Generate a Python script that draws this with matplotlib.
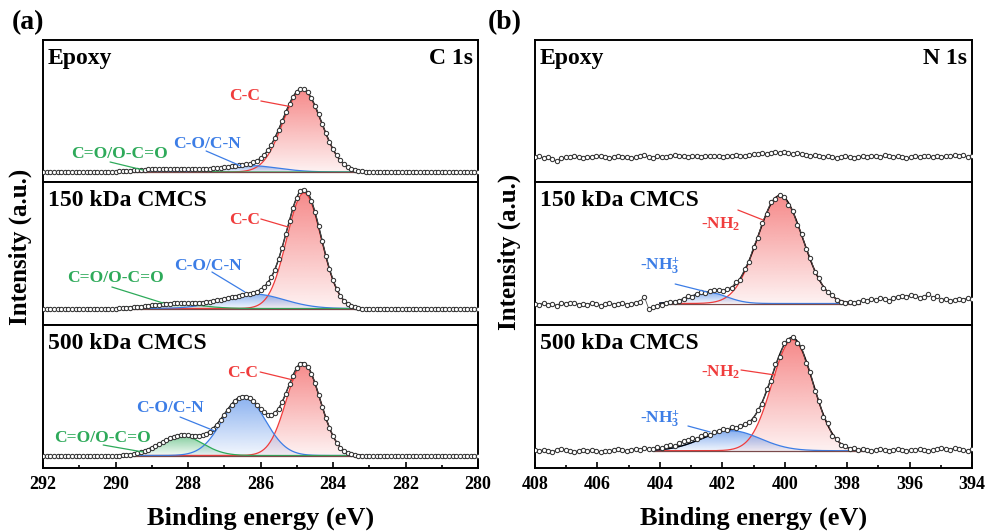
import numpy as np
import matplotlib
matplotlib.use('Agg')
import matplotlib.pyplot as plt
import matplotlib.colors as mcolors

plt.rcParams['font.family'] = ['Liberation Serif', 'DejaVu Serif']
plt.rcParams['font.weight'] = 'bold'
plt.rcParams['mathtext.fontset'] = 'custom'
plt.rcParams['mathtext.rm'] = 'Liberation Serif:bold'
plt.rcParams['mathtext.it'] = 'Liberation Serif:bold'
plt.rcParams['mathtext.bf'] = 'Liberation Serif:bold'

# ---- data (intensity in arbitrary units, baseline = 0) ----
samples = ['Epoxy', '150 kDa CMCS', '500 kDa CMCS']

# C 1s: 292 -> 280 eV, 0.1 eV step
c1s_energy = np.linspace(292, 280, 121)
c1s_epoxy = [0, 0, 0, 0, 0, 0, 0, 0, 0, 0,
             0, 0, 0, 0, 0, 0, 0, 0, 0, 0,
             0, 1, 1, 1, 1, 2, 2, 2, 2, 3,
             3, 3, 3, 3, 3, 3, 3, 3, 3, 3,
             3, 3, 3, 3, 3, 3, 3, 4, 4, 4,
             5, 5, 6, 6, 7, 7, 8, 8, 10, 11,
             14, 17, 22, 27, 34, 42, 51, 60, 68, 75,
             80, 83, 83, 80, 74, 66, 58, 48, 39, 30,
             23, 17, 12, 8, 5, 3, 2, 1, 1, 0,
             0, 0, 0, 0, 0, 0, 0, 0, 0, 0,
             0, 0, 0, 0, 0, 0, 0, 0, 0, 0,
             0, 0, 0, 0, 0, 0, 0, 0, 0, 0,
             0]
c1s_150 = [0, 0, 0, 0, 0, 0, 0, 0, 0, 0,
           0, 0, 0, 0, 0, 0, 0, 0, 0, 0,
           0, 1, 1, 1, 1, 2, 2, 2, 3, 3,
           4, 4, 4, 5, 5, 5, 6, 6, 6, 6,
           6, 6, 6, 6, 6, 7, 7, 8, 9, 9,
           10, 11, 12, 12, 13, 14, 15, 15, 16, 17,
           19, 22, 26, 32, 39, 50, 61, 75, 88, 101,
           111, 118, 119, 116, 108, 97, 83, 68, 53, 40,
           29, 20, 13, 8, 5, 3, 2, 1, 0, 0,
           0, 0, 0, 0, 0, 0, 0, 0, 0, 0,
           0, 0, 0, 0, 0, 0, 0, 0, 0, 0,
           0, 0, 0, 0, 0, 0, 0, 0, 0, 0,
           0]
c1s_500 = [0, 0, 0, 0, 0, 0, 0, 0, 0, 0,
           0, 0, 0, 0, 0, 0, 0, 0, 0, 0,
           0, 0, 1, 1, 1, 2, 3, 4, 5, 6,
           8, 10, 12, 14, 16, 18, 19, 20, 21, 21,
           21, 20, 20, 20, 21, 22, 24, 27, 31, 36,
           41, 46, 51, 55, 58, 59, 59, 58, 55, 51,
           47, 44, 41, 41, 43, 47, 54, 62, 72, 80,
           88, 92, 92, 89, 82, 73, 61, 49, 38, 28,
           20, 13, 8, 5, 3, 2, 1, 0, 0, 0,
           0, 0, 0, 0, 0, 0, 0, 0, 0, 0,
           0, 0, 0, 0, 0, 0, 0, 0, 0, 0,
           0, 0, 0, 0, 0, 0, 0, 0, 0, 0,
           0]

# N 1s: 408 -> 394 eV, 0.14 eV step
n1s_energy = np.linspace(408, 394, 101)
n1s_epoxy = [0, 1, -1, 0, -2, -4, -1, 0, 0, 1,
             0, -1, 0, 0, 1, 1, 0, -1, 0, 1,
             0, 0, -1, 0, 1, 2, 0, -1, 1, 0,
             0, 1, 2, 1, 1, 0, 1, 1, 0, 1,
             1, 1, 1, 0, 1, 1, 2, 1, 1, 2,
             3, 3, 4, 3, 4, 5, 4, 5, 4, 3,
             4, 3, 2, 1, 2, 1, 0, 1, 0, -1,
             0, 1, 0, -1, 0, 1, 0, 1, 1, 0,
             2, 1, 0, 1, 0, -1, 0, 1, 0, 1,
             1, 0, 1, 0, 1, 1, 2, 1, 2, 0,
             1]
n1s_150 = [0, -1, 1, -1, 0, -2, 1, 0, 1, 1,
           -1, 0, -1, 1, 0, -2, 0, 1, -1, 0,
           1, -1, 0, 1, 2, 7, -5, -3, -2, -1,
           1, 2, 2, 3, 5, 8, 7, 10, 12, 11,
           13, 14, 14, 13, 15, 16, 22, 24, 35, 42,
           57, 66, 81, 90, 102, 105, 109, 107, 99, 93,
           79, 70, 55, 46, 32, 26, 16, 12, 9, 4,
           2, 1, 2, 1, 2, 4, 3, 5, 4, 6,
           5, 3, 6, 7, 8, 7, 9, 8, 6, 7,
           10, 6, 8, 4, 5, 3, 4, 5, 4, 6,
           5]
n1s_500 = [1, 0, 1, 0, -1, 1, 2, 1, 0, -1,
           0, 1, 0, 1, 0, -1, 0, 0, 1, 2,
           1, 0, 1, 2, 1, 3, 2, 2, 4, 3,
           5, 6, 5, 8, 10, 11, 13, 12, 15, 17,
           16, 19, 20, 22, 21, 24, 23, 25, 27, 29,
           32, 41, 47, 62, 70, 87, 94, 108, 111, 114,
           108, 104, 88, 79, 60, 50, 34, 28, 15, 12,
           6, 5, 2, 3, 1, 2, 1, 0, 1, 2,
           1, 0, 1, 2, 1, 0, 1, 1, 2, 1,
           0, 1, 2, 3, 2, 1, 3, 2, 1, 0,
           2]

# fitted components: (centre eV, height, FWHM eV)
c1s_names = ['C-C', 'C-O/C-N', 'C=O/O-C=O']
c1s_fit = [
    [(284.85, 82, 1.25), (286.35, 6.5, 1.9), (288.7, 3.0, 1.6)],
    [(284.80, 115.5, 1.12), (286.2, 14.5, 2.0), (288.4, 5.0, 1.7)],
    [(284.82, 91.5, 1.10), (286.46, 59, 1.38), (288.2, 20, 1.4)],
]
n1s_names = [r'-NH$_\mathrm{2}$', r'-NH$_\mathrm{3}^\mathrm{+}$']
n1s_fit = [
    [],
    [(400.15, 108, 1.7), (402.45, 11, 1.4)],
    [(399.75, 111, 1.55), (401.72, 20, 2.2)],
]
c1s_fit_range = (289.8, 283.2)
n1s_fit_range = [None, (404.0, 397.6), (404.2, 397.4)]

c1s_data = [c1s_epoxy, c1s_150, c1s_500]
n1s_data = [n1s_epoxy, n1s_150, n1s_500]
for d in c1s_data:
    assert len(d) == len(c1s_energy)
for d in n1s_data:
    assert len(d) == len(n1s_energy)

RED, BLUE, GREEN = '#F03C3C', '#3C7DE6', '#2EAA5A'
c1s_colors = [RED, BLUE, GREEN]
n1s_colors = [RED, BLUE]

# ---- layout (figure pixels -> fractions) ----
W, H = 985, 531
row_px = [(40, 182), (182, 325), (325, 468)]
c1s_ylim = [(-10, 132), (-16.5, 126.5), (-12.5, 130.5)]
n1s_ylim = [(-25, 117), (-21.5, 121.5), (-17.3, 125.7)]

# label text position, leader start, leader end (data coords)
c1s_labels = [
    [((286.43, 72), (285.99, 71), (285.19, 65.5)),
     ((287.48, 24), (287.50, 21), (286.54, 6)),
     ((289.88, 14), (290.15, 10), (289.24, 2))],
    [((286.43, 84.5), (285.99, 89.5), (285.24, 81.5)),
     ((287.45, 38.5), (287.34, 36.5), (286.43, 16.5)),
     ((289.99, 26.5), (290.10, 21.5), (288.69, 5.5))],
    [((286.48, 78.5), (286.01, 83.5), (285.10, 75.5)),
     ((288.50, 43.5), (288.22, 38.5), (287.26, 24.5)),
     ((290.37, 13.5), (290.34, 10.5), (289.24, 3.5))],
]
n1s_labels = [
    [],
    [((402.04, 74.5), (401.50, 93.5), (400.69, 83.5)),
     ((404.0, 33.5), (403.51, 19.5), (402.49, 11.5))],
    [((402.04, 74), (401.40, 80.7), (400.31, 75.7)),
     ((404.0, 27.7), (403.10, 24.7), (402.39, 18.7))],
]


def gauss(x, c, h, w):
    return h * np.exp(-4 * np.log(2) * (x - c) ** 2 / w ** 2)


def grad_fill(ax, x, y, color):
    poly = ax.fill_between(x, 0, y, facecolor='none', edgecolor='none')
    path = poly.get_paths()[0]
    grad = np.zeros((100, 1, 4))
    grad[..., :3] = mcolors.to_rgb(color)
    grad[..., 3] = np.linspace(0.07, 0.6, 100)[:, None]
    im = ax.imshow(grad, aspect='auto', origin='lower', zorder=1,
                   extent=[x.min(), x.max(), 0, y.max()], interpolation='bilinear')
    im.set_clip_path(path, transform=ax.transData)


def draw_panel(ax, energy, counts, peaks, colors, fit_range):
    if peaks:
        xs = np.linspace(fit_range[0], fit_range[1], 500)
        env = np.zeros_like(xs)
        for (c, h, w), col in zip(peaks, colors):
            comp = gauss(xs, c, h, w)
            grad_fill(ax, xs, comp, col)
            ax.plot(xs, comp, color=col, lw=0.9, zorder=3)
            env += comp
        ax.plot(xs, np.zeros_like(xs), color='#7a4a4a', lw=0.9, zorder=3.5)
        ax.plot(xs, env, color='black', lw=1.0, zorder=4)
    ax.plot(energy, counts, '-o', color='#555555', lw=0.6, ms=3.1,
            mfc='white', mec='#333333', mew=0.75, zorder=5)


fig = plt.figure(figsize=(W / 100, H / 100), dpi=100)
col_px = [(43, 478), (535, 972)]
for side in range(2):
    x0, x1 = col_px[side]
    for r in range(3):
        top, bot = row_px[r]
        ax = fig.add_axes([x0 / W, 1 - bot / H, (x1 - x0) / W, (bot - top) / H])
        if side == 0:
            draw_panel(ax, c1s_energy, c1s_data[r], c1s_fit[r], c1s_colors, c1s_fit_range)
            ax.set_xlim(292, 280)
            ax.set_ylim(*c1s_ylim[r])
            labels, names, cols = c1s_labels[r], c1s_names, c1s_colors
            corner = 'C 1s'
        else:
            draw_panel(ax, n1s_energy, n1s_data[r], n1s_fit[r], n1s_colors, n1s_fit_range[r])
            ax.set_xlim(408, 394)
            ax.set_ylim(*n1s_ylim[r])
            labels, names, cols = n1s_labels[r], n1s_names, n1s_colors
            corner = 'N 1s'
        for (txy, p0, p1), name, col in zip(labels, names, cols):
            ax.text(txy[0], txy[1], name, color=col, fontsize=12.5, fontweight='bold',
                    ha='center', va='baseline', zorder=6)
            ax.annotate('', xy=p1, xytext=p0, zorder=6,
                        arrowprops=dict(arrowstyle='-', color=col, lw=0.9,
                                        shrinkA=0, shrinkB=0))
        ax.text(5 / (x1 - x0), 1 - 24 / (bot - top), samples[r], transform=ax.transAxes,
                fontsize=17, fontweight='bold', ha='left', va='baseline')
        if r == 0:
            ax.text(1 - 5 / (x1 - x0), 1 - 24 / (bot - top), corner, transform=ax.transAxes,
                    fontsize=17, fontweight='bold', ha='right', va='baseline')
        for s in ax.spines.values():
            s.set_linewidth(1.4)
        ax.set_yticks([])
        if r == 2:
            lo, hi = sorted(ax.get_xlim())
            ax.set_xticks(np.arange(lo, hi + 0.1, 2))
            ax.set_xticks(np.arange(lo + 1, hi, 2), minor=True)
            ax.tick_params(axis='x', which='both', direction='in', top=False,
                           labelsize=13, pad=6, width=1.2)
            ax.tick_params(axis='x', which='major', length=4)
            ax.tick_params(axis='x', which='minor', length=2.5)
            for lab in ax.get_xticklabels():
                lab.set_fontweight('bold')
        else:
            ax.set_xticks([])
    xc = (x0 + x1) / 2 / W
    fig.text(xc, 6 / H, 'Binding energy (eV)', fontsize=19, fontweight='bold',
             ha='center', va='baseline')

fig.text(20 / W, 1 - 247 / H, 'Intensity (a.u.)', fontsize=18, fontweight='bold',
         rotation=90, ha='center', va='center')
fig.text(509 / W, 1 - 252 / H, 'Intensity (a.u.)', fontsize=18, fontweight='bold',
         rotation=90, ha='center', va='center')
fig.text(12 / W, 1 - 29 / H, '(a)', fontsize=20, fontweight='bold', ha='left', va='baseline')
fig.text(488 / W, 1 - 29 / H, '(b)', fontsize=20, fontweight='bold', ha='left', va='baseline')

fig.savefig('out.png', dpi=100)
